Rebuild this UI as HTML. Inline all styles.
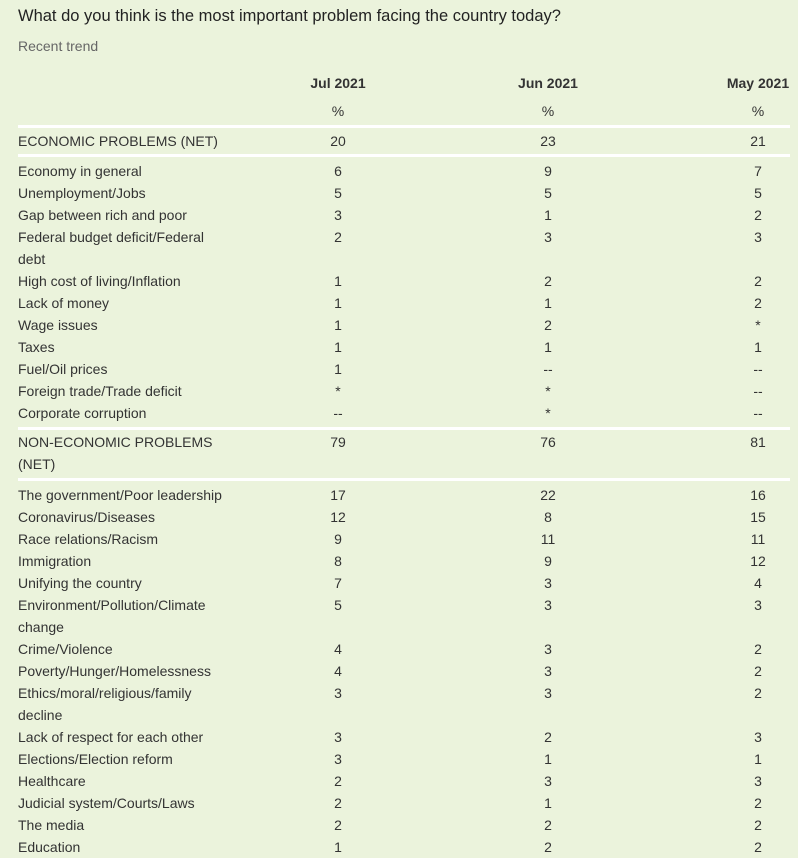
<!DOCTYPE html>
<html><head><meta charset="utf-8"><style>
body{margin:0;width:798px;height:856px;background:#ebf3dc;font-family:"Liberation Sans",sans-serif;color:#333;position:relative;overflow:hidden}
.t{position:absolute;white-space:nowrap;font-size:14px;line-height:22px}
.l{left:18px}
.c{width:80px;text-align:center}
.hr{position:absolute;left:18px;width:772px;height:3px;background:#fff}
</style></head><body>
<div class="t l" style="top:5px;font-size:16.5px;color:#222">What do you think is the most important problem facing the country today?</div>
<div class="t l" style="top:35px;color:#666">Recent trend</div>
<div id="g"></div>
<script>
const rows=[
["Jul 2021","Jun 2021","May 2021",72,"h"],
["%","%","%",100,"p"],
["ECONOMIC PROBLEMS (NET)",20,23,21,130],
["Economy in general",6,9,7,160],
["Unemployment/Jobs",5,5,5,182],
["Gap between rich and poor",3,1,2,204],
["Federal budget deficit/Federal",2,3,3,226],
["debt","","","",248],
["High cost of living/Inflation",1,2,2,270],
["Lack of money",1,1,2,292],
["Wage issues",1,2,"*",314],
["Taxes",1,1,1,336],
["Fuel/Oil prices",1,"--","--",358],
["Foreign trade/Trade deficit","*","*","--",380],
["Corporate corruption","--","*","--",402],
["NON-ECONOMIC PROBLEMS",79,76,81,431],
["(NET)","","","",453],
["The government/Poor leadership",17,22,16,484],
["Coronavirus/Diseases",12,8,15,506],
["Race relations/Racism",9,11,11,528],
["Immigration",8,9,12,550],
["Unifying the country",7,3,4,572],
["Environment/Pollution/Climate",5,3,3,594],
["change","","","",616],
["Crime/Violence",4,3,2,638],
["Poverty/Hunger/Homelessness",4,3,2,660],
["Ethics/moral/religious/family",3,3,2,682],
["decline","","","",704],
["Lack of respect for each other",3,2,3,726],
["Elections/Election reform",3,1,1,748],
["Healthcare",2,3,3,770],
["Judicial system/Courts/Laws",2,1,2,792],
["The media",2,2,2,814],
["Education",1,2,2,836]];
let h="";const cx=[338,548,758];
for(const r of rows){
 if(r[4]==="h"||r[4]==="p"){for(let i=0;i<3;i++)h+=`<div class="t c" style="top:${r[3]}px;left:${cx[i]-40}px;font-weight:${r[4]==="h"?"bold":"normal"}">${r[i]}</div>`;continue;}
 h+=`<div class="t l" style="top:${r[4]}px">${r[0]}</div>`;
 for(let i=0;i<3;i++)h+=`<div class="t c" style="top:${r[4]}px;left:${cx[i]-40}px">${r[i+1]}</div>`;
}
for(const y of [125,154,427,478])h+=`<div class="hr" style="top:${y}px"></div>`;
document.getElementById("g").innerHTML=h;
</script>
</body></html>
